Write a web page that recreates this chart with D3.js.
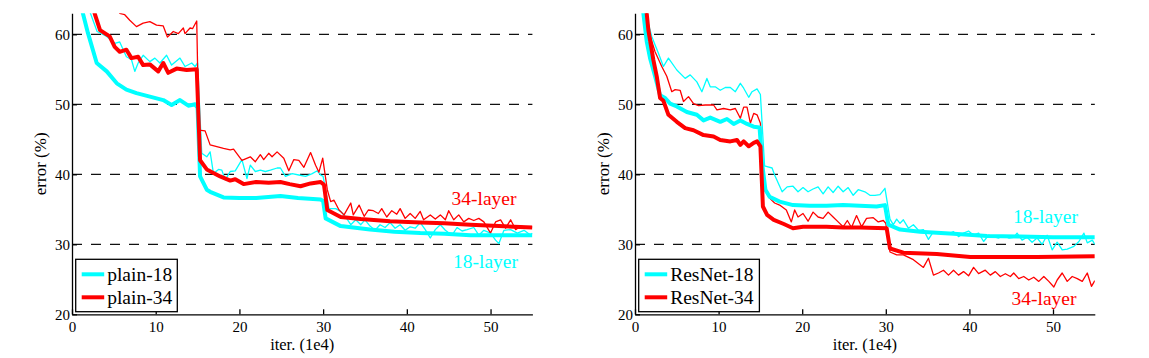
<!DOCTYPE html>
<html>
<head>
<meta charset="utf-8">
<script src="https://cdn.jsdelivr.net/npm/d3@7"></script>
<style>
  html, body { margin: 0; padding: 0; background: #fff; }
  svg { display: block; }
  text { font-family: "Liberation Serif", "Times New Roman", serif; fill: #000; }
</style>
</head>
<body>
<svg id="chart" width="1149" height="358"></svg>
<script>
// ---- data ----
const xTicks = [0, 10, 20, 30, 40, 50];
const yTicks = [20, 30, 40, 50, 60];
const gridValues = [30, 40, 50, 60];
const xLabel = "iter. (1e4)";
const yLabel = "error (%)";

// plain nets (left) -- [iteration (1e4), error %]
const plain18Train = [[1.5,68],[2.2,63],[3.0,60.4],[4.15,59.7],[5.1,58.7],[5.7,58.9],[6.5,56.8],[7.1,56.4],[7.5,54.7],[7.9,55.9],[8.5,57.0],[9.3,56.1],[9.9,56.6],[10.5,55.9],[11.3,57.0],[11.9,55.6],[12.9,56.6],[13.5,55.4],[14.3,55.9],[14.7,55.4],[15.0,55.9],[15.5,43.0],[16.1,42.5],[16.5,43.2],[16.9,40.1],[17.5,40.7],[17.9,40.6],[18.3,39.2],[18.9,40.4],[19.5,40.5],[20.3,42.1],[20.9,39.4],[21.3,41.3],[21.9,40.4],[22.5,40.6],[23.1,40.4],[23.7,40.6],[24.5,40.9],[24.9,40.9],[25.5,39.7],[26.3,40.1],[27.1,39.9],[27.9,39.7],[28.7,40.1],[29.3,40.5],[29.7,39.9],[30.0,39.7],[30.7,35.1],[31.5,35.1],[32.1,34.7],[32.7,33.9],[33.3,32.8],[33.9,33.5],[34.5,32.8],[35.0,33.5],[35.6,32.6],[36.2,32.0],[36.8,32.8],[37.4,32.4],[38.0,33.1],[38.6,32.3],[39.2,32.8],[39.8,32.0],[40.4,32.5],[41.0,32.3],[41.6,33.1],[42.2,32.1],[42.8,30.9],[43.4,32.1],[44.0,32.8],[44.6,32.0],[45.4,31.3],[46.0,32.4],[46.6,31.9],[47.2,32.1],[48.0,32.4],[48.6,31.3],[49.2,32.0],[50.0,31.6],[50.6,30.6],[51.0,30.1],[51.6,32.0],[52.4,32.1],[53.2,31.6],[54.0,32.0],[54.8,31.3],[55.0,31.6]];
const plain34Train = [[4.5,65.5],[5.7,63.0],[6.3,62.8],[6.9,62.0],[7.7,61.1],[8.5,61.6],[9.3,61.8],[10.1,61.3],[10.9,61.2],[11.4,59.6],[12.1,60.4],[12.7,60.1],[13.3,60.9],[13.5,60.1],[14.1,60.9],[14.4,60.8],[14.9,61.9],[15.15,46.3],[15.9,46.2],[16.5,44.2],[18.1,43.7],[18.9,43.5],[19.3,43.6],[20.3,42.0],[21.3,42.5],[21.9,41.8],[22.5,42.8],[22.9,42.1],[23.5,43.0],[23.9,42.5],[24.5,43.2],[25.3,42.3],[25.9,40.5],[26.5,42.1],[27.1,42.0],[27.7,41.0],[28.5,43.1],[29.1,41.3],[29.5,40.3],[29.95,42.3],[30.5,37.8],[30.9,36.1],[31.3,36.3],[31.9,34.9],[32.5,34.2],[33.3,35.9],[33.6,34.2],[34.3,35.6],[34.9,34.0],[35.4,34.9],[36.0,34.8],[36.6,34.4],[37.0,35.1],[37.6,33.9],[38.2,34.8],[38.8,34.3],[39.2,35.1],[39.8,33.7],[40.4,34.4],[41.0,33.7],[41.6,34.7],[42.0,33.5],[42.8,34.2],[43.4,33.6],[44.0,34.2],[44.6,33.5],[45.0,34.8],[45.6,33.5],[46.2,34.2],[46.8,33.2],[47.4,33.7],[48.0,33.4],[48.6,33.7],[49.2,33.2],[50.0,31.6],[50.6,33.2],[51.2,33.5],[51.8,32.3],[52.4,33.5],[53.0,32.1],[53.6,32.6],[54.4,32.4],[55.0,32.5]];
const plain18Val = [[0.5,75],[1.3,63],[1.9,60.2],[2.95,55.9],[4.15,54.7],[5.35,53.0],[6.5,52.1],[7.7,51.6],[9.3,51.1],[10.9,50.6],[11.9,49.9],[12.9,50.6],[13.9,49.8],[14.7,50.0],[15.0,49.5],[15.3,39.7],[16.1,37.8],[16.5,37.5],[18.1,36.7],[20.0,36.6],[22.0,36.6],[24.9,36.9],[27.0,36.6],[29.7,36.4],[30.0,36.2],[30.3,33.7],[32.1,32.6],[35.6,32.1],[38.5,31.8],[41.6,31.6],[44.5,31.5],[47.6,31.3],[51.0,31.3],[55.0,31.3]];
const plain34Val = [[1.5,70],[2.7,63],[3.35,60.6],[4.5,59.7],[5.1,58.2],[5.7,57.5],[6.5,57.8],[7.1,56.6],[7.9,56.8],[8.5,55.6],[9.3,55.7],[10.3,54.7],[10.9,55.9],[11.5,54.5],[12.5,55.1],[13.7,54.9],[14.9,55.0],[15.3,42.0],[16.1,40.7],[17.7,39.7],[18.9,39.1],[19.5,39.3],[20.5,38.6],[22.0,38.9],[23.5,38.8],[24.9,38.9],[26.0,38.6],[27.3,38.3],[28.5,38.7],[29.7,38.9],[30.1,38.5],[30.5,34.9],[32.1,33.9],[34.5,33.6],[38.0,33.3],[41.6,33.1],[44.5,33.0],[47.6,32.8],[51.0,32.6],[55.0,32.4]];

// residual nets (right)
const res18Train = [[1.0,70],[1.5,62],[2.0,59.7],[2.8,57.3],[3.4,55.4],[4.0,56.6],[5.0,54.9],[6.0,53.7],[6.6,54.2],[7.4,53.2],[8.0,51.8],[8.6,53.7],[9.0,52.5],[9.6,52.5],[10.2,52.0],[10.8,52.4],[11.4,52.4],[12.0,51.8],[12.6,53.0],[13.0,52.3],[13.6,51.0],[14.0,51.8],[14.6,52.2],[15.0,51.4],[15.5,41.2],[15.8,41.1],[16.4,40.9],[16.7,39.9],[17.6,37.5],[18.2,38.2],[18.9,38.3],[19.5,37.5],[20.1,38.1],[20.7,37.5],[21.3,37.9],[21.9,38.2],[22.5,37.2],[23.1,38.2],[23.7,37.4],[24.3,38.3],[24.9,37.5],[25.5,38.1],[26.1,37.0],[26.7,37.8],[27.5,37.5],[28.1,37.0],[28.7,37.0],[29.3,37.1],[29.9,38.0],[30.5,33.6],[30.9,32.8],[31.3,33.6],[31.7,33.0],[32.1,33.5],[32.7,32.3],[33.3,32.8],[33.9,32.0],[34.5,32.1],[35.1,30.7],[35.7,31.8],[36.3,31.8],[36.9,31.6],[37.5,31.5],[38.1,31.8],[38.7,31.1],[39.3,31.6],[39.9,31.9],[40.5,31.3],[41.1,31.6],[41.7,30.4],[42.3,31.3],[42.9,31.1],[43.5,30.9],[44.1,31.2],[44.7,30.9],[45.3,31.0],[45.7,31.6],[46.3,30.6],[46.9,31.0],[47.5,30.3],[48.1,30.9],[48.7,30.0],[49.3,31.3],[49.9,29.2],[50.5,30.3],[51.1,29.2],[51.7,29.3],[52.5,29.7],[53.1,30.4],[53.7,31.6],[54.1,30.2],[54.7,30.6],[55.0,30.0]];
const res34Train = [[1.0,68],[1.6,60.6],[2.4,57.5],[3.2,55.4],[3.8,54.0],[4.4,51.8],[4.8,52.1],[5.4,52.0],[5.8,50.4],[6.4,51.1],[7.0,50.1],[7.6,49.8],[8.4,49.9],[9.4,49.9],[9.8,49.2],[10.6,49.4],[11.4,49.2],[12.0,49.4],[12.6,48.0],[13.0,49.6],[13.4,49.6],[13.8,47.3],[14.2,48.7],[14.6,48.5],[15.0,47.3],[15.4,38.0],[16.1,36.6],[16.7,35.9],[17.3,35.6],[18.1,34.9],[18.7,33.2],[19.1,34.9],[19.5,33.9],[20.1,34.4],[20.7,33.3],[21.3,34.6],[21.9,33.9],[22.5,33.7],[23.1,34.6],[23.7,33.9],[24.3,33.2],[24.9,32.5],[25.4,33.4],[25.9,32.4],[26.5,34.1],[27.1,32.5],[27.7,33.7],[28.5,33.8],[29.1,33.2],[29.7,33.4],[30.0,33.0],[30.5,28.9],[31.3,28.5],[32.1,28.5],[33.3,27.8],[34.5,26.7],[35.1,28.0],[35.7,25.6],[36.3,25.9],[36.9,26.3],[37.5,25.6],[38.1,26.3],[38.7,25.6],[39.3,26.1],[39.9,25.5],[40.5,26.7],[41.1,25.8],[41.9,26.3],[42.5,25.6],[43.1,26.1],[43.7,25.4],[44.3,25.8],[44.9,25.4],[45.3,25.9],[45.9,25.1],[46.5,25.4],[47.1,24.9],[47.7,25.3],[48.3,24.7],[48.9,25.4],[49.5,24.7],[50.1,23.9],[50.5,24.9],[51.1,25.9],[51.7,24.7],[52.3,25.4],[52.9,25.1],[53.5,24.7],[54.1,25.9],[54.6,24.0],[55.0,24.8]];
const res18Val = [[0.5,72],[1.0,63],[1.4,59.0],[1.8,56.6],[2.4,54.0],[3.0,51.3],[3.6,50.9],[4.2,50.1],[5.0,49.7],[6.2,48.9],[7.4,48.5],[8.2,47.7],[9.0,48.1],[10.2,47.5],[11.0,47.9],[11.8,47.2],[12.6,47.7],[13.4,47.2],[14.2,46.8],[14.9,46.7],[15.2,41.6],[15.6,37.8],[16.1,36.8],[17.3,36.1],[18.9,35.6],[20.9,35.5],[22.9,35.5],[24.9,35.6],[26.9,35.5],[28.9,35.4],[29.9,35.6],[30.3,32.8],[31.7,32.1],[34.1,31.8],[38.1,31.5],[42.1,31.2],[46.1,31.1],[50.0,31.0],[55.0,31.0]];
const res34Val = [[0.8,72],[1.4,63],[1.6,60.6],[2.2,56.3],[2.6,54.0],[3.0,50.9],[3.4,50.5],[4.0,48.5],[5.0,47.5],[6.0,46.6],[7.0,46.3],[8.2,45.6],[9.4,45.4],[10.2,44.9],[11.4,44.7],[12.2,44.9],[12.6,44.2],[13.0,44.7],[13.6,44.0],[14.2,44.5],[14.6,44.7],[15.0,44.0],[15.3,35.4],[15.8,34.2],[16.6,33.5],[17.8,32.9],[18.9,32.3],[20.1,32.5],[22.9,32.5],[24.9,32.4],[26.9,32.4],[30.1,32.3],[30.5,29.4],[32.1,28.8],[36.1,28.6],[40.1,28.2],[44.1,28.2],[48.1,28.2],[55.0,28.3]];

const legendLeft = ["plain-18", "plain-34"];
const legendRight = ["ResNet-18", "ResNet-34"];
const notes = ["18-layer", "34-layer"];

const CYAN = "#00ffff", RED = "#ff0000";

const panels = [
  { left: 72, right: 532.4, series: [plain18Train, plain34Train, plain18Val, plain34Val], legend: legendLeft, legendW: 101.6,
    notes: [{ t: notes[1], x: 451.5, y: 205, c: RED }, { t: notes[0], x: 453, y: 267.5, c: CYAN }] },
  { left: 635, right: 1094.8, series: [res18Train, res34Train, res18Val, res34Val], legend: legendRight, legendW: 120.7,
    notes: [{ t: notes[0], x: 1013, y: 223, c: CYAN }, { t: notes[1], x: 1011.5, y: 304.5, c: RED }] }
];

const svg = d3.select("#chart");
svg.append("rect").attr("width", 1149).attr("height", 358).attr("fill", "#fff");

panels.forEach((p, i) => {
  const x = d3.scaleLinear().domain([0, 55]).range([p.left, p.right]);
  const y = d3.scaleLinear().domain([20, 63]).range([314.3, 13.3]);
  const g = svg.append("g");

  const clipId = "clip" + i;
  svg.append("clipPath").attr("id", clipId).append("rect")
    .attr("x", x(0)).attr("y", y(63)).attr("width", x(55) - x(0)).attr("height", y(20) - y(63));

  // dashed grid
  g.selectAll(".grid").data(gridValues).enter().append("line")
    .attr("x1", x(0)).attr("x2", x(55))
    .attr("y1", d => y(d)).attr("y2", d => y(d))
    .attr("stroke", "#111").attr("stroke-width", 1.2).attr("stroke-dasharray", "10,9");

  // lines
  const line = d3.line().x(d => x(d[0])).y(d => y(d[1]));
  const styles = [
    { c: CYAN, w: 1.3 }, { c: RED, w: 1.3 }, { c: CYAN, w: 4 }, { c: RED, w: 4 }
  ];
  const lg = g.append("g").attr("clip-path", `url(#${clipId})`);
  p.series.forEach((s, k) => {
    lg.append("path").datum(s).attr("d", line)
      .attr("fill", "none").attr("stroke", styles[k].c).attr("stroke-width", styles[k].w)
      .attr("stroke-linejoin", "round").attr("stroke-linecap", "butt");
  });

  // axes
  const xAxis = d3.axisBottom(x).tickValues(xTicks).tickSizeInner(-5).tickSizeOuter(0).tickPadding(7);
  const yAxis = d3.axisLeft(y).tickValues(yTicks).tickSizeInner(-5).tickSizeOuter(0).tickPadding(2);
  const gx = g.append("g").attr("transform", `translate(0,${y(20)})`).call(xAxis);
  const gy = g.append("g").attr("transform", `translate(${x(0)},0)`).call(yAxis);
  [gx, gy].forEach(a => {
    a.selectAll("path, line").attr("stroke", "#000").attr("stroke-width", 1.3);
    a.selectAll("text").style("font-family", '"Liberation Serif", "Times New Roman", serif')
      .style("font-size", "15px").attr("fill", "#000");
  });

  // axis labels
  g.append("text").attr("x", (x(0) + x(55)) / 2).attr("y", 350).attr("text-anchor", "middle")
    .style("font-size", "16.5px").text(xLabel);
  g.append("text").attr("transform", `translate(${x(0) - 26},${(y(20) + y(63)) / 2}) rotate(-90)`)
    .attr("text-anchor", "middle").style("font-size", "17px").text(yLabel);

  // legend
  const lx = x(0) + 3.7, ly = 259.3;
  const leg = g.append("g");
  leg.append("rect").attr("x", lx).attr("y", ly).attr("width", p.legendW).attr("height", 52.4)
    .attr("fill", "#fff").attr("stroke", "#000").attr("stroke-width", 1.3);
  [CYAN, RED].forEach((c, k) => {
    const yy = ly + 15 + k * 23;
    leg.append("line").attr("x1", lx + 6).attr("x2", lx + 28.5).attr("y1", yy).attr("y2", yy)
      .attr("stroke", c).attr("stroke-width", 4);
    leg.append("text").attr("x", lx + 31.5).attr("y", yy + 6.5).style("font-size", "19.5px").text(p.legend[k]);
  });

  // annotations
  p.notes.forEach(n => {
    g.append("text").attr("x", n.x).attr("y", n.y).style("font-size", "19.5px")
      .style("fill", n.c).text(n.t);
  });
});
</script>
</body>
</html>
